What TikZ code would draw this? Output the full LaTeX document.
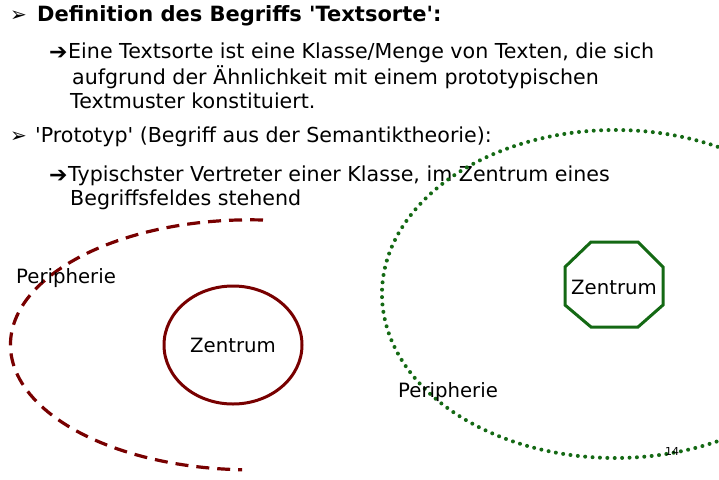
\documentclass[tikz,border=0pt]{standalone}
\usepackage{fontspec}
\setmainfont{DejaVu Sans}
\usetikzlibrary{shapes.geometric,calc}
\definecolor{dunkelrot}{RGB}{120,0,0}
\definecolor{dunkelgruen}{RGB}{20,105,20}
\begin{document}
\begin{tikzpicture}[x=1pt,y=-1pt]
% text sizes
\def\fs{\fontsize{20.6}{24}\selectfont}
\def\ls{\fontsize{19.7}{24}\selectfont}
% node style definition
\tikzstyle{zeile} = [anchor=west, inner sep=0pt, font=\fs];
\tikzstyle{marke} = [anchor=west, inner sep=0pt, font=\fs];
\tikzstyle{rand} = [draw=dunkelrot, line width=3.2pt,
	dash pattern=on 13pt off 8pt];
\tikzstyle{feld} = [draw=dunkelgruen, line width=4pt, line cap=round,
	dash pattern=on 0pt off 7.4pt];
\useasboundingbox (0,0) rectangle (719,479);
% bullet points
\node[marke] (bulA) at (10,16) {\fontsize{20}{20}\selectfont ➢};
\node[zeile] (defA) at (37,16) {\fontsize{21}{24}\selectfont\bfseries Definition des Begriffs \textquotesingle Textsorte\textquotesingle:};
\node[marke] (pfeilA) at (49,53) {\fontsize{22}{24}\selectfont\bfseries ➔};
\node[zeile] (defB) at (68,53) {Eine Textsorte ist eine Klasse/Menge von Texten, die sich};
\node[zeile] (defC) at (72,77) {aufgrund der Ähnlichkeit mit einem prototypischen};
\node[zeile] (defD) at (70,101) {Textmuster konstituiert.};
\node[marke] (bulB) at (10,137) {\fontsize{20}{20}\selectfont ➢};
\node[zeile] (protA) at (35,137) {\textquotesingle Prototyp\textquotesingle{} (Begriff aus der Semantiktheorie):};
\node[marke] (pfeilB) at (49,176) {\fontsize{22}{24}\selectfont\bfseries ➔};
\node[zeile] (protB) at (68,176) {Typischster Vertreter einer Klasse, im Zentrum eines};
\node[zeile] (protC) at (70,200) {Begriffsfeldes stehend};
% left field
\draw[rand] (263,220) arc[start angle=273, end angle=92, x radius=240, y radius=125];
\node[ellipse, draw=dunkelrot, line width=3pt, minimum width=138pt,
	minimum height=118pt, inner sep=0pt, font=\ls] (zentrumA) at (233,345) {Zentrum};
\node[zeile, font=\ls] (periA) at (16,278) {Peripherie};
% right field
\draw[feld] (615,294) ++(300:233 and 164) arc[start angle=300, end angle=60, x radius=233, y radius=164];
\node[font=\ls, inner sep=0pt] (zentrumB) at (614,287) {Zentrum};
\draw[draw=dunkelgruen, line width=3pt]
	($(zentrumB)+(-23,-45)$) -- ($(zentrumB)+(24,-45)$) -- ($(zentrumB)+(49,-20)$)
	-- ($(zentrumB)+(49,18)$) -- ($(zentrumB)+(24,40)$) -- ($(zentrumB)+(-23,40)$)
	-- ($(zentrumB)+(-49,18)$) -- ($(zentrumB)+(-49,-20)$) -- cycle;
\node[zeile, font=\ls] (periB) at (398,392) {Peripherie};
% page number
\node[font=\fontsize{11}{11}\selectfont, inner sep=0pt] (seite) at (672,451) {14};
\end{tikzpicture}
\end{document}
